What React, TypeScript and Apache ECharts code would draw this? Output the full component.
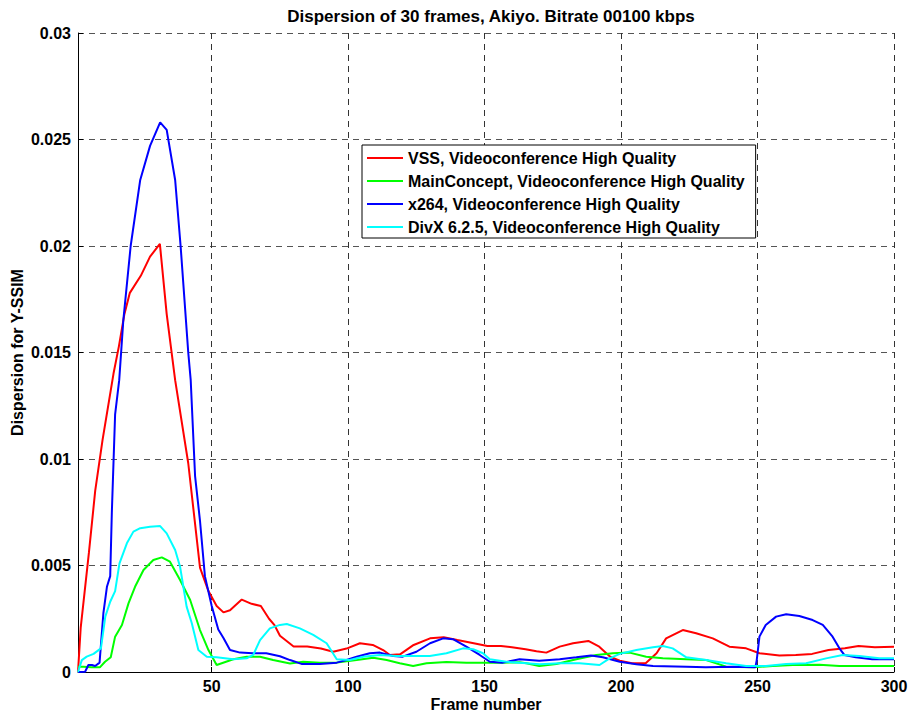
import React, { useEffect, useRef } from "react";
import * as echarts from "echarts";

// Frame-by-frame Y-SSIM dispersion, [frame, dispersion]
const vssData: number[][] = [
  [1, 0], [2, 0.0021], [5, 0.0056], [7.3, 0.0085], [10, 0.0109], [14, 0.014], [16, 0.0153],
  [18, 0.0168], [20, 0.0178], [24, 0.0186], [27.4, 0.0195], [31, 0.0201], [33.5, 0.0168],
  [36.6, 0.0137], [41.4, 0.0098], [45.7, 0.0049], [48.8, 0.0038], [51.8, 0.0031], [54.3, 0.0028],
  [56.7, 0.0029], [61, 0.0034], [64.6, 0.0032], [68, 0.0031], [71, 0.0025], [73, 0.0022],
  [75, 0.0017], [80, 0.0012], [85, 0.0012], [90, 0.0011], [94.5, 0.00095], [99.4, 0.0011],
  [104.3, 0.00135], [109, 0.00127], [112.8, 0.00103], [115.3, 0.0008], [119, 0.00083],
  [124, 0.00127], [130, 0.00158], [135, 0.00163], [140, 0.0015], [146, 0.00135], [151, 0.00122],
  [156, 0.00122], [160, 0.00116], [165, 0.00107], [169, 0.00097], [172.6, 0.00091],
  [177.5, 0.00119], [182.4, 0.00135], [188, 0.00146], [192, 0.00119], [196, 0.00072],
  [199.5, 0.00053], [204, 0.00041], [209, 0.00041], [213, 0.00088], [216.5, 0.00158],
  [222.6, 0.00197], [227.5, 0.00182], [233.6, 0.00158], [239.7, 0.00119], [245.8, 0.00111],
  [250.7, 0.00088], [258, 0.00077], [264, 0.0008], [270, 0.00085], [276, 0.00103],
  [282, 0.00111], [287, 0.00122], [293, 0.00116], [300, 0.00119],
];

const mainConceptData: number[][] = [
  [1, 0.00025], [3, 0.00025], [6, 0.00022], [9, 0.00022], [10.9, 0.00048], [13, 0.00069],
  [14.6, 0.00166], [17.1, 0.00221], [19.5, 0.00322], [21.9, 0.004], [25, 0.00479],
  [28.6, 0.00526], [31.7, 0.00538], [34.7, 0.00518], [38.4, 0.00432], [42.1, 0.00338],
  [45.7, 0.00197], [48.8, 0.00103], [51.8, 0.00033], [57.9, 0.0006], [62.8, 0.00072],
  [67.7, 0.00072], [72.5, 0.00056], [78.7, 0.0004], [83.5, 0.00048], [89.6, 0.00044],
  [95.8, 0.00044], [103.1, 0.00056], [109.2, 0.00067], [114.1, 0.00056], [118.9, 0.00041],
  [123.8, 0.00028], [128.7, 0.00041], [136, 0.00047], [143.3, 0.00044], [150.7, 0.00044],
  [156.7, 0.00044], [162.8, 0.00046], [165.3, 0.00041], [170, 0.00028], [176.3, 0.00038],
  [183.6, 0.0006], [190.9, 0.0008], [197, 0.00088], [203.1, 0.00091], [209.2, 0.00072],
  [215.3, 0.00064], [223.9, 0.0006], [231.2, 0.00056], [238.5, 0.00025], [248.3, 0.00022],
  [255.6, 0.00028], [262.9, 0.00033], [272.7, 0.00034], [280, 0.00028], [290, 0.00028],
  [300, 0.00028],
];

const x264Data: number[][] = [
  [1, 0], [3.6, 0.00001], [4.8, 0.00033], [6.1, 0.00033], [7.3, 0.00028], [8.9, 0.00044],
  [10.3, 0.00276], [11.6, 0.004], [12.8, 0.0045], [13.4, 0.0075], [14.6, 0.0121], [16.1, 0.0137],
  [17.6, 0.0165], [20.3, 0.02], [23.8, 0.0231], [27.4, 0.0247], [31.1, 0.0258], [33.5, 0.02545],
  [36.6, 0.0231], [38.6, 0.02], [41.4, 0.015], [42.3, 0.0137], [43.9, 0.0092], [45.7, 0.0071],
  [47.5, 0.0045], [50, 0.0031], [52.4, 0.002], [54.3, 0.0016], [56.7, 0.00103], [60.4, 0.00091],
  [65, 0.00088], [70, 0.00088], [75, 0.00074], [78.7, 0.00056], [82.9, 0.00038], [89.6, 0.00038],
  [95.8, 0.00044], [99.4, 0.00056], [103.1, 0.00072], [107.9, 0.00088], [111.6, 0.00091],
  [116.5, 0.00075], [120, 0.00072], [125, 0.00095], [130, 0.00135], [134.8, 0.00158],
  [138.4, 0.00154], [143.3, 0.00119], [148.2, 0.0008], [151.9, 0.00048], [156.7, 0.00044],
  [162.8, 0.0006], [170, 0.00053], [177.5, 0.0006], [183.6, 0.00069], [189, 0.00077],
  [193.3, 0.00069], [199.5, 0.00048], [205.6, 0.00036], [211.7, 0.00028], [224, 0.00025],
  [231, 0.00022], [241, 0.00025], [249.2, 0.00022], [249.7, 0.00056], [250.7, 0.00166],
  [253, 0.00221], [256.8, 0.0026], [260.5, 0.00271], [265.3, 0.00263], [270.2, 0.00244],
  [273.9, 0.00221], [277.5, 0.00166], [280, 0.00111], [281.8, 0.0008], [286, 0.00069],
  [292, 0.0006], [300, 0.0006],
];

const divxData: number[][] = [
  [1, 0], [2.4, 0.00056], [4.2, 0.00072], [6.7, 0.00085], [9.4, 0.00111], [11, 0.0026],
  [12.8, 0.0033], [14.6, 0.0038], [16.2, 0.0051], [18.9, 0.00604], [21.3, 0.00659],
  [23.8, 0.00675], [27.4, 0.00682], [31.1, 0.00685], [33.5, 0.00651], [36.6, 0.00573],
  [38.4, 0.00494], [40.8, 0.00307], [42.7, 0.00229], [45.1, 0.00103], [48.2, 0.00072],
  [51.8, 0.00069], [57.9, 0.0006], [62.8, 0.00064], [65.2, 0.0008], [67.7, 0.0015],
  [71.3, 0.00205], [75, 0.00221], [77.5, 0.00225], [82.3, 0.00205], [87.2, 0.00174],
  [92.1, 0.00135], [95.8, 0.0006], [100.6, 0.00056], [105.5, 0.00072], [111.6, 0.0008],
  [117.7, 0.00075], [123.8, 0.00075], [129.9, 0.00075], [136, 0.00088], [142.1, 0.00111],
  [145.8, 0.00107], [149.4, 0.00088], [151.9, 0.0006], [158, 0.00048], [165.3, 0.00041],
  [170.2, 0.00036], [177.5, 0.00041], [184.8, 0.00041], [192.1, 0.00033], [195.8, 0.00064],
  [199.5, 0.00085], [205.6, 0.00103], [211.7, 0.00116], [215.3, 0.00122], [218.9, 0.00111],
  [223.9, 0.00069], [231.2, 0.00056], [238.5, 0.00041], [245.8, 0.00028], [253.1, 0.00028],
  [260.5, 0.00038], [267.8, 0.00041], [275.1, 0.00064], [281.2, 0.0008], [287.3, 0.00075],
  [294.6, 0.00064], [300, 0.00064],
];

const seriesNames = [
  "VSS, Videoconference High Quality",
  "MainConcept, Videoconference High Quality",
  "x264, Videoconference High Quality",
  "DivX 6.2.5, Videoconference High Quality",
];
const seriesColors = ["#ff0000", "#00ff00", "#0000ff", "#00ffff"];
const frameTicks = [50, 100, 150, 200, 250, 300];

const FONT = "'Liberation Sans', Arial, Helvetica, sans-serif";

export default function App() {
  const ref = useRef<HTMLDivElement>(null);

  useEffect(() => {
    if (!ref.current) return;
    const chart = echarts.init(ref.current, null, { renderer: "svg" });
    const allData = [vssData, mainConceptData, x264Data, divxData];
    const boldText = { fontFamily: FONT, fontSize: 16, fontWeight: "bold", color: "#000" };

    chart.setOption({
      animation: false,
      backgroundColor: "#ffffff",
      textStyle: { fontFamily: FONT },
      title: {
        text: "Dispersion of 30 frames, Akiyo. Bitrate 00100 kbps",
        left: 486,
        textAlign: "center",
        top: 3,
        textStyle: { ...boldText, fontSize: 17 },
      },
      grid: { left: 78, right: 15, top: 33, bottom: 43, containLabel: false, outerBoundsMode: "none" },
      legend: {
        orient: "vertical",
        left: 362,
        top: 145,
        icon: "rect",
        itemWidth: 36,
        itemHeight: 2,
        itemGap: 5,
        padding: [4, 11, 2, 5],
        backgroundColor: "#ffffff",
        borderColor: "#000000",
        borderWidth: 1,
        borderRadius: 0,
        textStyle: { ...boldText, lineHeight: 18 },
        data: seriesNames,
      },
      xAxis: {
        type: "value",
        min: 1,
        max: 300,
        name: "Frame number",
        nameLocation: "middle",
        nameGap: 24,
        nameMoveOverlap: false,
        nameTextStyle: boldText,
        axisLine: { show: true, onZero: false, lineStyle: { color: "#000", width: 1 } },
        axisTick: { show: true, inside: true, length: 5, customValues: frameTicks, lineStyle: { color: "#000" } },
        axisLabel: { customValues: frameTicks, margin: 6, ...boldText },
        splitLine: { show: true, lineStyle: { color: "#333", type: [6, 5], width: 1 } },
      },
      yAxis: {
        type: "value",
        min: 0,
        max: 0.03,
        interval: 0.005,
        name: "Dispersion for Y-SSIM",
        nameLocation: "middle",
        nameGap: 53,
        nameMoveOverlap: false,
        nameTextStyle: boldText,
        axisLine: { show: true, lineStyle: { color: "#000", width: 1 } },
        axisTick: { show: true, inside: true, length: 5, lineStyle: { color: "#000" } },
        axisLabel: {
          margin: 7,
          ...boldText,
          formatter: (v: number) => (v === 0 ? "0" : String(parseFloat(v.toFixed(3)))),
        },
        splitLine: { show: true, lineStyle: { color: "#555", type: [6, 5], width: 1 } },
      },
      series: allData.map((d, i) => ({
        name: seriesNames[i],
        type: "line",
        data: d,
        showSymbol: false,
        symbol: "none",
        color: seriesColors[i],
        lineStyle: { color: seriesColors[i], width: 2 },
      })),
    });

    return () => chart.dispose();
  }, []);

  return (
    <div
      ref={ref}
      style={{ position: "fixed", left: 0, top: 0, width: 909, height: 715, background: "#fff" }}
    />
  );
}
